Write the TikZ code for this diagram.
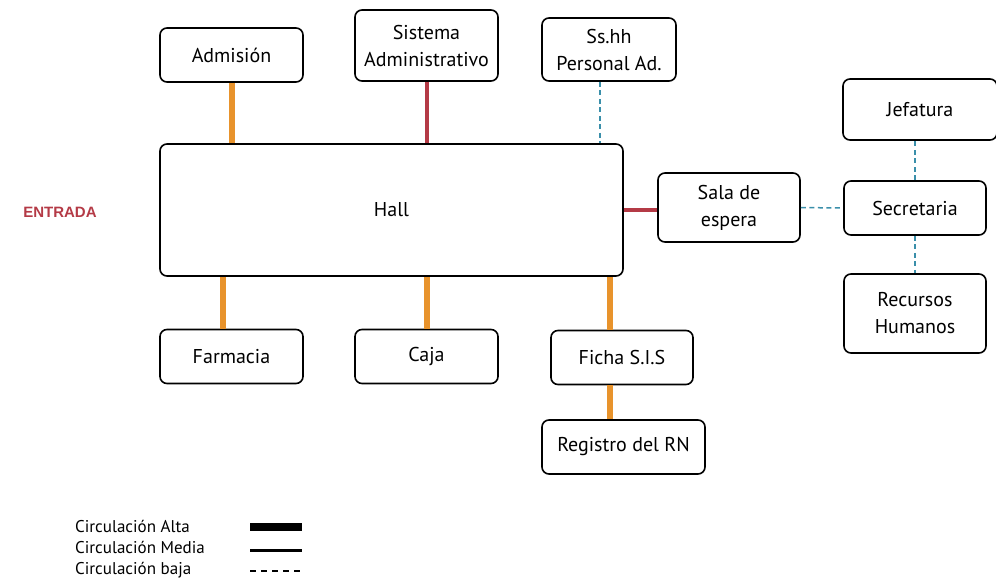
\documentclass[tikz,border=0pt]{standalone}
\usepackage{fontspec}
\setmainfont{PT Sans}
\newfontfamily\entradafont{Liberation Sans}
\definecolor{naranja}{HTML}{E8932C}
\definecolor{rojo}{HTML}{B43A46}
\definecolor{celeste}{HTML}{3A8FAA}
\begin{document}
\begin{tikzpicture}[x=1pt,y=-1pt]
    	\tikzstyle{area}=[draw=black, line width=1.6pt, rounded corners=7pt, fill=white, minimum width=143pt, minimum height=54pt, inner sep=2pt, align=center, font=\fontsize{20}{27}\selectfont]
    	\tikzstyle{alta}=[draw=naranja, line width=6pt]
    	\tikzstyle{media}=[draw=rojo, line width=4pt]
    	\tikzstyle{baja}=[draw=celeste, line width=1.5pt, dash pattern=on 5pt off 3.5pt]
    	\tikzstyle{leyenda}=[anchor=base west, inner sep=0pt, font=\fontsize{17}{20}\selectfont]
    	
    	\useasboundingbox (0,0) rectangle (996,582);
    	
    	% Areas
    	\node at (231.5, 55) [area] (admision) {Admisión};
    	\node at (426.5, 45.5) [area, minimum height=71pt] (sistema) {Sistema\\Administrativo};
    	\node at (609, 49.5) [area, minimum width=134pt, minimum height=63pt] (sshh) {Ss.hh\\Personal Ad.};
    	\node at (391.5, 210) [area, minimum width=463pt, minimum height=132pt] (hall) {Hall};
    	\node at (729, 207.5) [area, minimum width=142pt, minimum height=69pt] (sala) {Sala de\\espera};
    	\node at (920, 109.5) [area, minimum width=154pt, minimum height=61pt] (jefatura) {Jefatura};
    	\node at (915, 208) [area, minimum width=142pt] (secretaria) {Secretaria};
    	\node at (915, 313.5) [area, minimum width=142pt, minimum height=79pt] (rrhh) {Recursos\\Humanos};
    	\node at (231.5, 356.5) [area] (farmacia) {Farmacia};
    	\node at (426.5, 356.5) [area] (caja) {Caja};
    	\node at (622, 357.5) [area, minimum width=142pt] (ficha) {Ficha S.I.S};
    	\node at (623.5, 447) [area, minimum width=163pt] (registro) {Registro del RN};
    	
    	\node at (60, 212) [text=rojo, font=\entradafont\bfseries\fontsize{15}{18}\selectfont] (entrada) {ENTRADA};
    	
    	% Circulacion
    	\draw [alta] (admision) -- (admision |- hall.north);
    	\draw [media] (sistema) -- (sistema |- hall.north);
    	\draw [baja] ([xshift=-9pt]sshh.south) -- ([xshift=-9pt]sshh.south |- hall.north);
    	\draw [media] (hall.east) -- (hall.east -| sala.west);
    	\draw [baja] (sala) -- (secretaria);
    	\draw [baja] (secretaria) -- (secretaria |- jefatura.south);
    	\draw [baja] (secretaria) -- (rrhh);
    	\draw [alta] ([xshift=-9pt]farmacia.north) -- ([xshift=-9pt]farmacia.north |- hall.south);
    	\draw [alta] (caja) -- (caja |- hall.south);
    	\draw [alta] ([xshift=-12pt]ficha.north) -- ([xshift=-12pt]ficha.north |- hall.south);
    	\draw [alta] ([xshift=-12pt]ficha.south) -- ([xshift=-12pt]ficha.south |- registro.north);
    	
    	% Leyenda
    	\node at (75, 532) [leyenda] (leyalta) {Circulación Alta};
    	\node at (75, 553) [leyenda] (leymedia) {Circulación Media};
    	\node at (75, 574) [leyenda] (leybaja) {Circulación baja};
    	\coordinate (a1) at (250, 527); \coordinate (a2) at (302, 527);
    	\coordinate (m1) at (250, 550); \coordinate (m2) at (302, 550);
    	\coordinate (b1) at (250, 571); \coordinate (b2) at (302, 571);
    	\draw [line width=8pt] (a1) -- (a2);
    	\draw [line width=3pt] (m1) -- (m2);
    	\draw [line width=1.8pt, dash pattern=on 6pt off 5pt] (b1) -- (b2);
    \end{tikzpicture}
\end{document}
